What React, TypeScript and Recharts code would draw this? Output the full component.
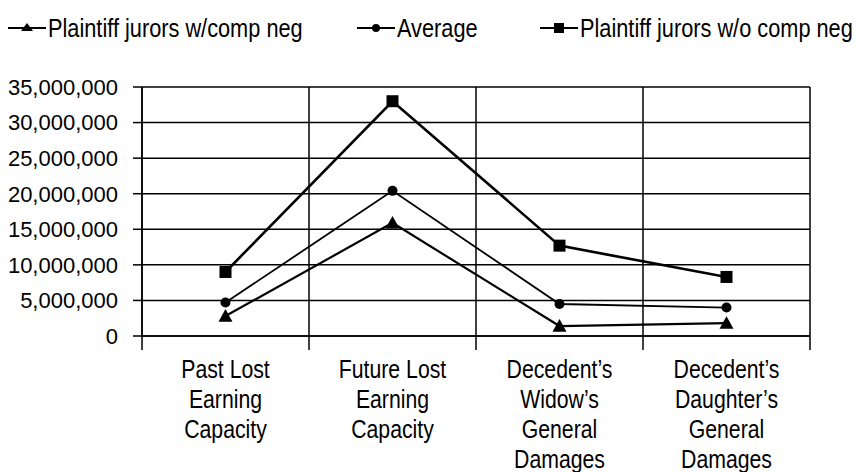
import React from "react";
import { LineChart, Line, XAxis, YAxis, CartesianGrid, Legend } from "recharts";

const categories = ["Past Lost Earning Capacity", "Future Lost Earning Capacity", "Decedent’s Widow’s General Damages", "Decedent’s Daughter’s General Damages"];
const categoryLines = [
  ["Past Lost", "Earning", "Capacity"],
  ["Future Lost", "Earning", "Capacity"],
  ["Decedent’s", "Widow’s", "General", "Damages"],
  ["Decedent’s", "Daughter’s", "General", "Damages"],
];
const withCompNeg = [2800000, 15900000, 1400000, 1800000];
const average = [4700000, 20400000, 4500000, 4000000];
const withoutCompNeg = [9000000, 33000000, 12700000, 8300000];
const yTicks = [0, 5000000, 10000000, 15000000, 20000000, 25000000, 30000000, 35000000];
const boundaryTicks = [0, 1, 2, 3, 4];
const seriesNames = ["Plaintiff jurors w/comp neg", "Average", "Plaintiff jurors w/o comp neg"];

const data = categories.map((c, i) => ({
  name: c,
  idx: i,
  withComp: withCompNeg[i],
  avg: average[i],
  withoutComp: withoutCompNeg[i],
}));

const REG = "'Liberation Sans', Arial, sans-serif";

const TriangleDot = (props: any) => {
  const { cx, cy } = props;
  if (cx == null || cy == null) return null;
  const s = 7;
  return <path d={`M${cx},${cy - s} L${cx + s},${cy + s * 0.8} L${cx - s},${cy + s * 0.8} Z`} fill="#000" />;
};
const CircleDot = (props: any) => {
  const { cx, cy } = props;
  if (cx == null || cy == null) return null;
  return <circle cx={cx} cy={cy} r={5} fill="#000" />;
};
const SquareDot = (props: any) => {
  const { cx, cy } = props;
  if (cx == null || cy == null) return null;
  return <rect x={cx - 6} y={cy - 6} width={12} height={12} fill="#000" />;
};

const CatTick = (props: any) => {
  const { x, y, index } = props;
  const lines = categoryLines[index] || [];
  return (
    <g transform={`translate(${x},${y}) scale(0.85,1)`}>
      <text x={0} y={0} textAnchor="middle" fill="#000" fontFamily={REG} fontSize={25}>
        {lines.map((l, i) => (
          <tspan key={i} x={0} y={33 + i * 30}>{l}</tspan>
        ))}
      </text>
    </g>
  );
};

const legendIcon = (kind: number) => (
  <svg width={38} height={20} style={{ display: "block" }}>
    <line x1={0} y1={10} x2={38} y2={10} stroke="#000" strokeWidth={2} />
    {kind === 0 && <path d="M19,5 L25,13 L13,13 Z" fill="#000" />}
    {kind === 1 && <circle cx={19} cy={10} r={4} fill="#000" />}
    {kind === 2 && <rect x={14} y={5} width={10} height={10} fill="#000" />}
  </svg>
);

const legendLefts = [8, 357, 540];

const LegendContent = () => (
  <div style={{ position: "relative", height: 77, width: 861 }}>
    {seriesNames.map((n, i) => (
      <div key={n} style={{ position: "absolute", left: legendLefts[i], top: 0, height: 36, display: "flex", alignItems: "center", fontFamily: REG, fontSize: 25, color: "#000", whiteSpace: "nowrap" }}>
        {legendIcon(i)}
        <span style={{ marginLeft: 2, display: "inline-block", transform: "scaleX(0.87)", transformOrigin: "left center" }}>{n}</span>
      </div>
    ))}
  </div>
);

export default function App() {
  return (
    <div style={{ position: "absolute", left: 0, top: 0, background: "#fff" }}>
      <LineChart width={861} height={472} data={data} margin={{ top: 10, right: 51, bottom: 0, left: 0 }}>
        <Legend verticalAlign="top" align="left" content={<LegendContent />} wrapperStyle={{ left: 0, top: 10 }} />
        <CartesianGrid stroke="#000" strokeWidth={1.5} />
        <XAxis type="number" dataKey="idx" domain={[0, 4]} ticks={boundaryTicks} tickSize={14} height={1} tickFormatter={() => ""} stroke="#000" strokeWidth={1.5} axisLine={{ stroke: "#000", strokeWidth: 1.5 }} tickLine={{ stroke: "#000", strokeWidth: 1.5 }} />
        <XAxis xAxisId="c" dataKey="name" scale="band" height={135} axisLine={false} tickLine={false} interval={0} tick={<CatTick />} />
        <YAxis width={142} domain={[0, 35000000]} ticks={yTicks} tickSize={9} tickMargin={15} tickFormatter={(v: number) => v.toLocaleString("en-US")} tick={{ fill: "#000", fontSize: 22, fontFamily: REG }} axisLine={{ stroke: "#000", strokeWidth: 1.5 }} tickLine={{ stroke: "#000", strokeWidth: 1.5 }} />
        <Line xAxisId="c" dataKey="withComp" name={seriesNames[0]} stroke="#000" strokeWidth={2.2} dot={<TriangleDot />} activeDot={false} isAnimationActive={false} />
        <Line xAxisId="c" dataKey="avg" name={seriesNames[1]} stroke="#000" strokeWidth={1.8} dot={<CircleDot />} activeDot={false} isAnimationActive={false} />
        <Line xAxisId="c" dataKey="withoutComp" name={seriesNames[2]} stroke="#000" strokeWidth={2.6} dot={<SquareDot />} activeDot={false} isAnimationActive={false} />
      </LineChart>
    </div>
  );
}
